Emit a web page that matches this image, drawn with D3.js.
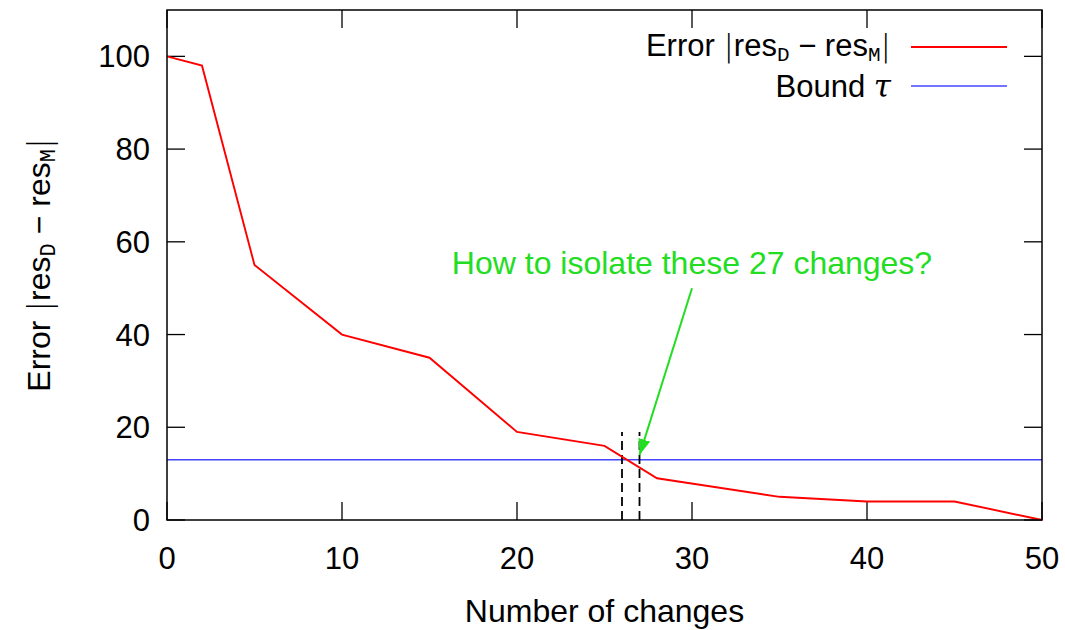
<!DOCTYPE html>
<html><head><meta charset="utf-8">
<script src="https://cdn.jsdelivr.net/npm/d3@7"></script>
<style>body{margin:0;background:#fff}svg{display:block}</style>
</head><body>
<svg id="c" width="1065" height="630"></svg>
<script>
const changes = [0, 2, 5, 10, 15, 20, 25, 28, 35, 40, 45, 50];
const errors  = [100, 98, 55, 40, 35, 19, 16, 9, 5, 4, 4, 0];
const bound = 13;
const markX = [26, 27];
const markTop = 19;
const xTicks = [0, 10, 20, 30, 40, 50];
const yTicks = [0, 20, 40, 60, 80, 100];
const arrowFrom = [30, 50], arrowTo = [27, 14];
const noteText = "How to isolate these 27 changes?";

const FONT = "'Liberation Sans', Arial, sans-serif";
const FS = 32;
const svg = d3.select("#c");
const L = 167, R = 1042, T = 10, B = 520;
const x = d3.scaleLinear().domain([0, 50]).range([L, R]);
const y = d3.scaleLinear().domain([0, 110]).range([B, T]);

svg.append("defs").append("marker").attr("id","ah").attr("viewBox","0 0 16 12")
  .attr("refX",16).attr("refY",6).attr("markerWidth",16).attr("markerHeight",12)
  .attr("markerUnits","userSpaceOnUse").attr("orient","auto")
  .append("path").attr("d","M0,0 L16,6 L0,12 z").attr("fill","#22dd22");

// ticks (inside, mirrored)
const tl = 18;
const g = svg.append("g").attr("stroke","#000").attr("stroke-width",1.3);
xTicks.forEach(t => {
  g.append("line").attr("x1",x(t)).attr("x2",x(t)).attr("y1",B).attr("y2",B-tl);
  g.append("line").attr("x1",x(t)).attr("x2",x(t)).attr("y1",T).attr("y2",T+tl);
});
yTicks.forEach(t => {
  g.append("line").attr("x1",L).attr("x2",L+tl).attr("y1",y(t)).attr("y2",y(t));
  g.append("line").attr("x1",R).attr("x2",R-tl).attr("y1",y(t)).attr("y2",y(t));
});

// tick labels
svg.append("g").selectAll("text").data(xTicks).join("text")
  .attr("x", d => x(d)).attr("y", B + 49).attr("text-anchor","middle")
  .attr("font-family",FONT).attr("font-size",31).attr("fill","#000").text(d => d);
svg.append("g").selectAll("text").data(yTicks).join("text")
  .attr("x", L - 17).attr("y", d => y(d) + 11).attr("text-anchor","end")
  .attr("font-family",FONT).attr("font-size",31).attr("fill","#000").text(d => d);

// bound line
svg.append("line").attr("x1",x(0)).attr("x2",x(50)).attr("y1",y(bound)).attr("y2",y(bound))
  .attr("stroke","#4444ff").attr("stroke-width",1.3);

// dashed marks
markX.forEach(m => svg.append("line").attr("x1",x(m)).attr("x2",x(m)).attr("y1",y(0)).attr("y2",y(markTop))
  .attr("stroke","#000").attr("stroke-width",1.8).attr("stroke-dasharray","9,5"));

// error line
const line = d3.line().x((d,i)=>x(changes[i])).y(d=>y(d));
svg.append("path").datum(errors).attr("d",line).attr("fill","none")
  .attr("stroke","#ff0000").attr("stroke-width",1.9);

// frame
svg.append("rect").attr("x",L).attr("y",T).attr("width",R-L).attr("height",B-T)
  .attr("fill","none").attr("stroke","#000").attr("stroke-width",1.5);

// annotation
svg.append("text").attr("x",x(30)).attr("y",274).attr("text-anchor","middle")
  .attr("font-family",FONT).attr("font-size",FS).attr("fill","#22dd22").text(noteText);
svg.append("line").attr("x1",x(arrowFrom[0])).attr("y1",y(arrowFrom[1]))
  .attr("x2",x(arrowTo[0])).attr("y2",y(arrowTo[1]))
  .attr("stroke","#22dd22").attr("stroke-width",2).attr("marker-end","url(#ah)");

// math label helper
function errLabel(t, fs){
  t.append("tspan").text("Error ");
  t.append("tspan").attr("font-family","'DejaVu Sans'").attr("font-weight",200).text("|");
  t.append("tspan").text("res");
  t.append("tspan").attr("font-family","'Liberation Mono', monospace").attr("font-size",fs).attr("dy",5).text("D");
  t.append("tspan").attr("dy",-5).text(" \u2212 res");
  t.append("tspan").attr("font-family","'Liberation Mono', monospace").attr("font-size",fs).attr("dy",5).text("M");
  t.append("tspan").attr("dy",-5).attr("font-family","'DejaVu Sans'").attr("font-weight",200).text("|");
}

// legend
const lg = svg.append("g");
const t1 = lg.append("text").attr("x",891).attr("y",56).attr("text-anchor","end")
  .attr("font-family",FONT).attr("font-size",31).attr("fill","#000");
errLabel(t1, 21);
const t2 = lg.append("text").attr("x",891).attr("y",97).attr("text-anchor","end")
  .attr("font-family",FONT).attr("font-size",31).attr("fill","#000");
t2.append("tspan").text("Bound ");
t2.append("tspan").attr("font-family","'DejaVu Serif'").attr("font-style","italic").text("\u03c4");
lg.append("line").attr("x1",911).attr("x2",1007).attr("y1",47).attr("y2",47).attr("stroke","#ff0000").attr("stroke-width",1.9);
lg.append("line").attr("x1",911).attr("x2",1007).attr("y1",86).attr("y2",86).attr("stroke","#4444ff").attr("stroke-width",1.3);

// axis titles
svg.append("text").attr("x",x(25)).attr("y",622).attr("text-anchor","middle")
  .attr("font-family",FONT).attr("font-size",FS).attr("fill","#000").text("Number of changes");
const yt = svg.append("text").attr("transform","translate(50,265) rotate(-90)").attr("text-anchor","middle")
  .attr("font-family",FONT).attr("font-size",FS).attr("fill","#000");
errLabel(yt, 22);
</script>
</body></html>
